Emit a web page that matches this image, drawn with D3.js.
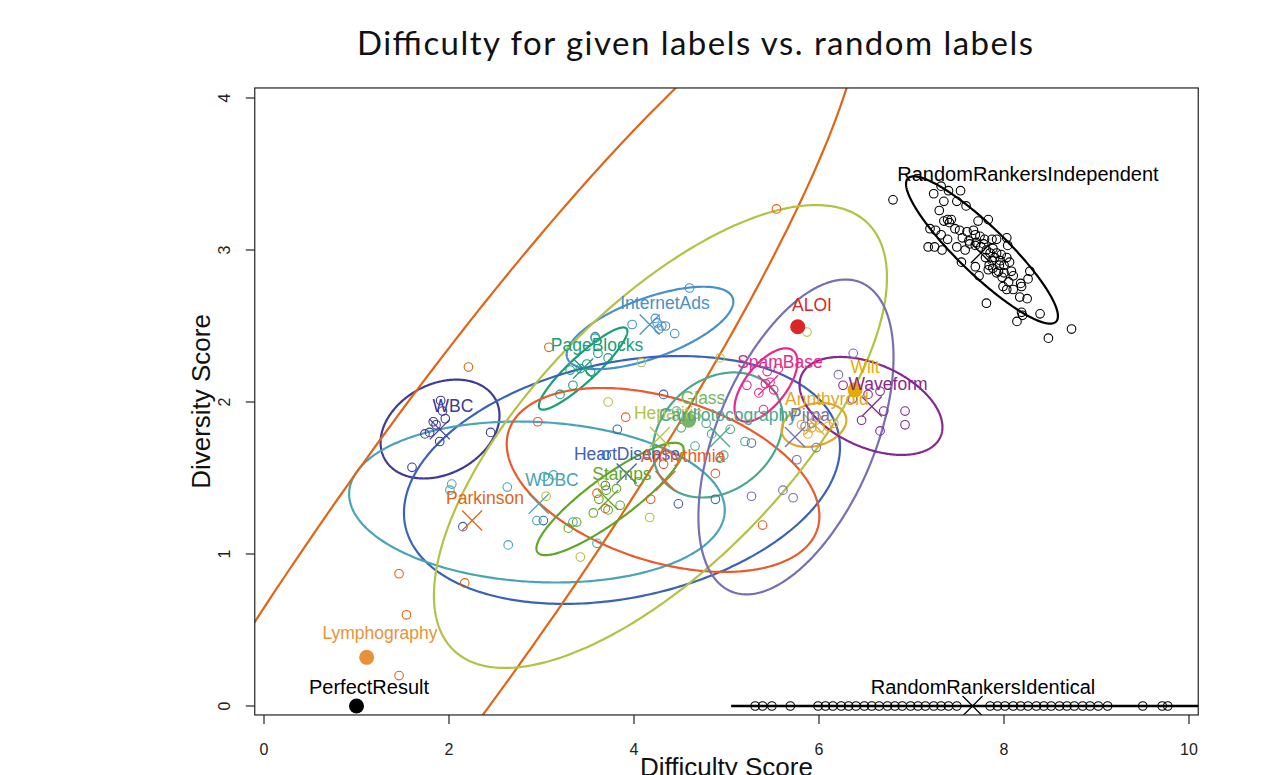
<!DOCTYPE html>
<html>
<head>
<meta charset="utf-8">
<script src="https://cdn.jsdelivr.net/npm/d3@7"></script>
<style>
  body { margin: 0; background: #fff; }
  text { font-family: "Liberation Sans", Arial, sans-serif; }
</style>
</head>
<body>
<svg id="chart" width="1281" height="775"></svg>
<script>
// ---- data ----
const names = ["PerfectResult", "Lymphography", "Glass", "Wilt", "ALOI", "WBC", "PageBlocks",
  "InternetAds", "HeartDisease", "WDBC", "Arrhythmia", "Parkinson", "Hepatitis", "Stamps",
  "Cardiotocography", "Pima", "SpamBase", "Annthyroid", "Waveform",
  "RandomRankersIndependent", "RandomRankersIdentical"];

const colors = ["#000000", "#e8913a", "#78b562", "#e6ab02", "#d92626", "#403a98", "#1b9e77",
  "#4690cb", "#3b62b6", "#48a4b6", "#ea5a2c", "#e06515", "#b4c244", "#62a628",
  "#4aa98d", "#7570b3", "#e7298a", "#e2a823", "#85298f", "#000000", "#000000"];

// result with the given labels (filled dot), where shown
const givenResult = [[1.0, 0], [1.11, 0.32], [4.59, 1.88], [6.39, 2.08], [5.77, 2.495],
  null, null, null, null, null, null, null, null, null, null, null, null, null, null, null, null];

// mean of the random-label runs (cross)
const randomMean = [null, null, null, null, null, [1.90, 1.82], [3.45, 2.22], [4.17, 2.51],
  [3.92, 1.53], [2.97, 1.33], [4.34, 1.48], [2.25, 1.22], [4.28, 1.77], [3.72, 1.355],
  [4.93, 1.77], [5.74, 1.77], [5.45, 2.11], [5.95, 1.85], [6.57, 1.97], [7.75, 2.98], [7.66, 0]];

// confidence ellipses: centre x, centre y, semi-axis vector u, semi-axis vector v
const ellipses = [null, null, null, null, null,
  [1.903, 1.822, 0.601, 0.194, -0.228, 0.261],
  [3.45, 2.22, 0.469, 0.263, -0.0953, 0.0629],
  [4.173, 2.487, 0.894, 0.198, -0.111, 0.1855],
  [3.870, 1.487, 2.342, 0.303, -0.264, 0.757],
  [2.951, 1.342, 2.030, -0.0647, 0.0452, 0.5256],
  [4.314, 1.487, 1.669, -0.3223, 0.2671, 0.5123],
  [1.892, 0.914, 4.425, 3.832, 1.079, -0.461],
  [4.286, 1.773, 2.2374, 1.405, -0.9953, 0.5869],
  [3.741, 1.362, 0.783, 0.351, -0.1411, 0.1165],
  [4.908, 1.783, 0.586, 0.3046, -0.388, 0.2766],
  [5.751, 1.770, 0.7017, 1.0159, -0.7873, 0.2014],
  [5.427, 2.112, 0.2924, 0.2266, -0.1743, 0.0833],
  [5.946, 1.849, 0.3446, 0.0562, -0.0588, 0.1334],
  [6.562, 1.974, 0.7506, -0.2034, 0.1829, 0.25],
  [7.762, 3.0, 0.801, -0.471, 0.180, 0.1135],
  [7.66, 0, 2.61, 0, 0, 0]];

const labelAt = [[1.135, 0.125], [1.254, 0.48], [4.746, 2.026], [6.497, 2.23], [5.924, 2.638],
  [2.043, 1.974], [3.60, 2.375], [4.335, 2.651], [3.924, 1.658], [3.114, 1.487], [4.53, 1.645],
  [2.389, 1.368], [4.368, 1.928], [3.870, 1.526], [5.016, 1.914], [5.903, 1.914], [5.578, 2.263],
  [6.086, 2.02], [6.746, 2.118], [8.259, 3.50], [7.773, 0.125]];

// individual random-label runs (open circles)
const randWBC = [[1.91, 2.01], [1.93, 1.94], [1.83, 1.87], [1.96, 1.89], [1.74, 1.79], [1.79, 1.80],
  [1.90, 1.74], [2.45, 1.80], [1.60, 1.57], [1.86, 1.85]];
const randPageBlocks = [[3.58, 2.42], [3.72, 2.29], [3.61, 2.32], [3.49, 2.25], [3.42, 2.22],
  [3.31, 2.21], [3.34, 2.11], [3.20, 2.05], [3.53, 2.20]];
const randInternetAds = [[4.60, 2.75], [3.98, 2.51], [4.23, 2.55], [4.25, 2.52], [4.30, 2.50],
  [4.34, 2.50], [4.27, 2.48], [4.44, 2.45], [3.58, 2.43]];
const randHeartDisease = [[4.32, 2.05], [3.82, 1.82], [3.69, 1.45], [4.48, 1.33], [4.88, 1.36],
  [2.15, 1.18], [3.02, 1.22], [3.70, 1.65]];
const randWDBC = [[2.03, 1.46], [2.01, 1.42], [2.63, 1.44], [2.64, 1.06], [2.95, 1.22], [3.13, 1.52],
  [3.34, 1.21], [3.60, 1.07], [3.03, 1.51]];
const randArrhythmia = [[3.60, 1.40], [3.69, 1.30], [4.18, 1.36], [4.88, 1.53], [5.39, 1.19],
  [3.91, 1.90], [2.96, 1.87], [4.32, 1.59]];
const randParkinson = [[2.21, 2.23], [3.08, 2.36], [1.46, 0.87], [1.54, 0.60], [1.46, 0.20],
  [2.17, 0.81], [5.54, 3.27]];
const randHepatitis = [[5.87, 2.46], [3.72, 2.00], [4.08, 2.26], [4.93, 2.29], [3.05, 1.38],
  [3.42, 0.98], [4.17, 1.24], [3.66, 1.47]];
const randStamps = [[3.70, 1.42], [3.81, 1.43], [3.56, 1.27], [3.72, 1.29], [3.85, 1.32], [3.29, 1.17],
  [3.38, 1.21], [4.05, 1.475], [3.62, 1.36]];
const randCardio = [[4.51, 1.83], [4.78, 1.86], [4.84, 1.79], [5.04, 1.82], [5.20, 1.74], [4.66, 1.71],
  [4.97, 1.65], [4.93, 1.63], [4.46, 1.94]];
const randPima = [[5.27, 1.73], [5.97, 1.70], [5.76, 1.62], [5.27, 1.38], [5.61, 1.42], [5.72, 1.37],
  [5.85, 1.84], [6.37, 2.32], [6.21, 2.18], [5.92, 1.86]];
const randSpamBase = [[5.22, 2.11], [5.35, 2.06], [5.42, 2.12], [5.47, 2.13], [5.51, 2.08],
  [5.44, 2.20], [5.56, 2.22], [5.40, 1.95]];
const randAnnthyroid = [[5.81, 1.85], [5.92, 1.83], [6.01, 1.83], [6.10, 1.84], [6.16, 1.86],
  [5.88, 1.79], [5.97, 1.90]];
const randWaveform = [[6.26, 2.11], [6.66, 2.07], [6.53, 2.05], [6.70, 1.94], [6.93, 1.94],
  [6.93, 1.85], [6.46, 1.88], [6.66, 1.81], [6.36, 2.02]];
const randIndependent = [[6.80, 3.33], [7.32, 3.42], [7.40, 3.39], [7.53, 3.39], [7.24, 3.37],
  [7.35, 3.32], [7.49, 3.32], [7.59, 3.29], [7.30, 3.26], [7.39, 3.20], [7.43, 3.20], [7.35, 3.19],
  [7.20, 3.14], [7.26, 3.13], [7.32, 3.10], [7.41, 3.18], [7.47, 3.14], [7.52, 3.13], [7.60, 3.12],
  [7.67, 3.13], [7.72, 3.19], [7.83, 3.20], [7.69, 3.10], [7.74, 3.09], [7.79, 3.07], [7.87, 3.07],
  [7.92, 3.07], [8.03, 3.08], [8.04, 3.03], [7.18, 3.02], [7.25, 3.02], [7.33, 3.00], [7.39, 3.07],
  [7.49, 3.02], [7.58, 3.00], [7.63, 3.04], [7.69, 3.03], [7.75, 3.02], [7.81, 3.00], [7.88, 3.01],
  [7.92, 2.98], [7.97, 2.97], [8.03, 2.95], [7.96, 2.93], [7.87, 2.93], [7.84, 2.90], [7.88, 2.88],
  [7.94, 2.86], [7.83, 2.87], [7.69, 2.89], [7.54, 2.92], [7.73, 2.83], [7.92, 2.85], [8.00, 2.85],
  [8.08, 2.86], [8.10, 2.83], [8.05, 2.79], [7.99, 2.76], [8.03, 2.74], [8.10, 2.74], [8.18, 2.78],
  [8.19, 2.76], [8.28, 2.86], [8.26, 2.81], [8.17, 2.69], [8.25, 2.68], [7.81, 2.65], [8.19, 2.59],
  [8.20, 2.57], [8.14, 2.53], [8.39, 2.58], [8.73, 2.48], [8.48, 2.42], [7.55, 3.08], [7.62, 3.06],
  [7.70, 3.05], [7.78, 3.04], [7.85, 2.98], [7.90, 2.95], [7.95, 2.90], [8.00, 2.90], [7.80, 2.95],
  [7.98, 2.82], [8.06, 2.92]];
const randIdentical = [[5.31, 0], [5.39, 0], [5.49, 0], [5.69, 0], [5.99, 0], [6.07, 0], [6.15, 0],
  [6.24, 0], [6.32, 0], [6.40, 0], [6.49, 0], [6.57, 0], [6.65, 0], [6.74, 0], [6.82, 0], [6.90, 0],
  [6.99, 0], [7.07, 0], [7.15, 0], [7.24, 0], [7.32, 0], [7.40, 0], [7.49, 0], [7.85, 0], [7.93, 0],
  [8.01, 0], [8.10, 0], [8.18, 0], [8.26, 0], [8.35, 0], [8.43, 0], [8.51, 0], [8.60, 0], [8.68, 0],
  [8.76, 0], [8.85, 0], [8.93, 0], [9.02, 0], [9.12, 0], [9.50, 0], [9.71, 0], [9.77, 0]];

const randomRuns = [[], [], [], [], [], randWBC, randPageBlocks, randInternetAds, randHeartDisease,
  randWDBC, randArrhythmia, randParkinson, randHepatitis, randStamps, randCardio, randPima,
  randSpamBase, randAnnthyroid, randWaveform, randIndependent, randIdentical];

const xTicks = [0, 2, 4, 6, 8, 10];
const yTicks = [0, 1, 2, 3, 4];

// ---- drawing ----
const svg = d3.select("#chart");
const x = d3.scaleLinear().domain([0, 10]).range([264, 1189]);
const y = d3.scaleLinear().domain([0, 4]).range([706, 98]);

const box = { x0: x(-0.1), x1: x(10.1), y0: y(4.066), y1: y(-0.059) };

svg.append("clipPath").attr("id", "plotclip")
  .append("rect")
  .attr("x", box.x0).attr("y", box.y0)
  .attr("width", box.x1 - box.x0).attr("height", box.y1 - box.y0);

const plot = svg.append("g").attr("clip-path", "url(#plotclip)");

const line = d3.line().x(d => x(d[0])).y(d => y(d[1])).curve(d3.curveLinearClosed);
const steps = d3.range(0, 2 * Math.PI, Math.PI / 180);

// ellipses
plot.selectAll("path.ell")
  .data(names.map((n, i) => i).filter(i => ellipses[i]))
  .join("path")
  .attr("class", "ell")
  .attr("d", i => {
    const [cx, cy, ux, uy, vx, vy] = ellipses[i];
    return line(steps.map(t => [cx + ux * Math.cos(t) + vx * Math.sin(t),
                                cy + uy * Math.cos(t) + vy * Math.sin(t)]));
  })
  .attr("fill", "none")
  .attr("stroke", i => colors[i])
  .attr("stroke-width", i => names[i] === "RandomRankersIdentical" ? 2.6 : 2.2);

// random runs
names.forEach((n, i) => {
  plot.append("g").selectAll("circle")
    .data(randomRuns[i])
    .join("circle")
    .attr("cx", d => x(d[0]))
    .attr("cy", d => y(d[1]))
    .attr("r", 4.3)
    .attr("fill", "none")
    .attr("stroke", colors[i])
    .attr("stroke-width", 1.1);
});

// crosses at the mean
const cross = 10;
plot.append("g").selectAll("path")
  .data(names.map((n, i) => i).filter(i => randomMean[i]))
  .join("path")
  .attr("d", i => {
    const px = x(randomMean[i][0]), py = y(randomMean[i][1]);
    return `M${px - cross},${py - cross}L${px + cross},${py + cross}M${px - cross},${py + cross}L${px + cross},${py - cross}`;
  })
  .attr("stroke", i => colors[i])
  .attr("stroke-width", 1.3)
  .attr("fill", "none");

// given-label results
plot.append("g").selectAll("circle")
  .data(names.map((n, i) => i).filter(i => givenResult[i]))
  .join("circle")
  .attr("cx", i => x(givenResult[i][0]))
  .attr("cy", i => y(givenResult[i][1]))
  .attr("r", 7.5)
  .attr("fill", i => colors[i]);

// labels
svg.append("g").selectAll("text")
  .data(names.map((n, i) => i))
  .join("text")
  .attr("x", i => x(labelAt[i][0]))
  .attr("y", i => y(labelAt[i][1]))
  .attr("dy", "0.36em")
  .attr("text-anchor", "middle")
  .attr("font-size", i => (names[i].startsWith("Random") || names[i] === "PerfectResult") ? 20 : 17.5)
  .attr("fill", i => colors[i])
  .text(i => names[i]);

// box
svg.append("rect")
  .attr("x", box.x0).attr("y", box.y0)
  .attr("width", box.x1 - box.x0).attr("height", box.y1 - box.y0)
  .attr("fill", "none").attr("stroke", "#222").attr("stroke-width", 1.2);

// x axis
const gx = svg.append("g");
gx.selectAll("line").data(xTicks).join("line")
  .attr("x1", d => x(d)).attr("x2", d => x(d))
  .attr("y1", box.y1).attr("y2", box.y1 + 9)
  .attr("stroke", "#222").attr("stroke-width", 1.2);
gx.selectAll("text").data(xTicks).join("text")
  .attr("x", d => x(d)).attr("y", 755)
  .attr("text-anchor", "middle").attr("font-size", 16).attr("fill", "#222")
  .text(d => d);

// y axis
const gy = svg.append("g");
gy.selectAll("line").data(yTicks).join("line")
  .attr("x1", box.x0).attr("x2", box.x0 - 9)
  .attr("y1", d => y(d)).attr("y2", d => y(d))
  .attr("stroke", "#222").attr("stroke-width", 1.2);
gy.selectAll("text").data(yTicks).join("text")
  .attr("transform", d => `translate(230,${y(d)}) rotate(-90)`)
  .attr("text-anchor", "middle").attr("font-size", 16).attr("fill", "#222")
  .text(d => d);

// titles
svg.append("text")
  .attr("x", 695).attr("y", 55)
  .attr("text-anchor", "middle")
  .style("font-family", "Lato, 'Open Sans', sans-serif")
  .attr("font-size", 33).attr("fill", "#111")
  .attr("textLength", 676).attr("lengthAdjust", "spacing")
  .text("Difficulty for given labels vs. random labels");

svg.append("text")
  .attr("x", (box.x0 + box.x1) / 2).attr("y", 776)
  .attr("text-anchor", "middle").attr("font-size", 26).attr("fill", "#111")
  .text("Difficulty Score");

svg.append("text")
  .attr("transform", `translate(210,${(box.y0 + box.y1) / 2}) rotate(-90)`)
  .attr("text-anchor", "middle").attr("font-size", 26).attr("fill", "#111")
  .text("Diversity Score");
</script>
</body>
</html>
